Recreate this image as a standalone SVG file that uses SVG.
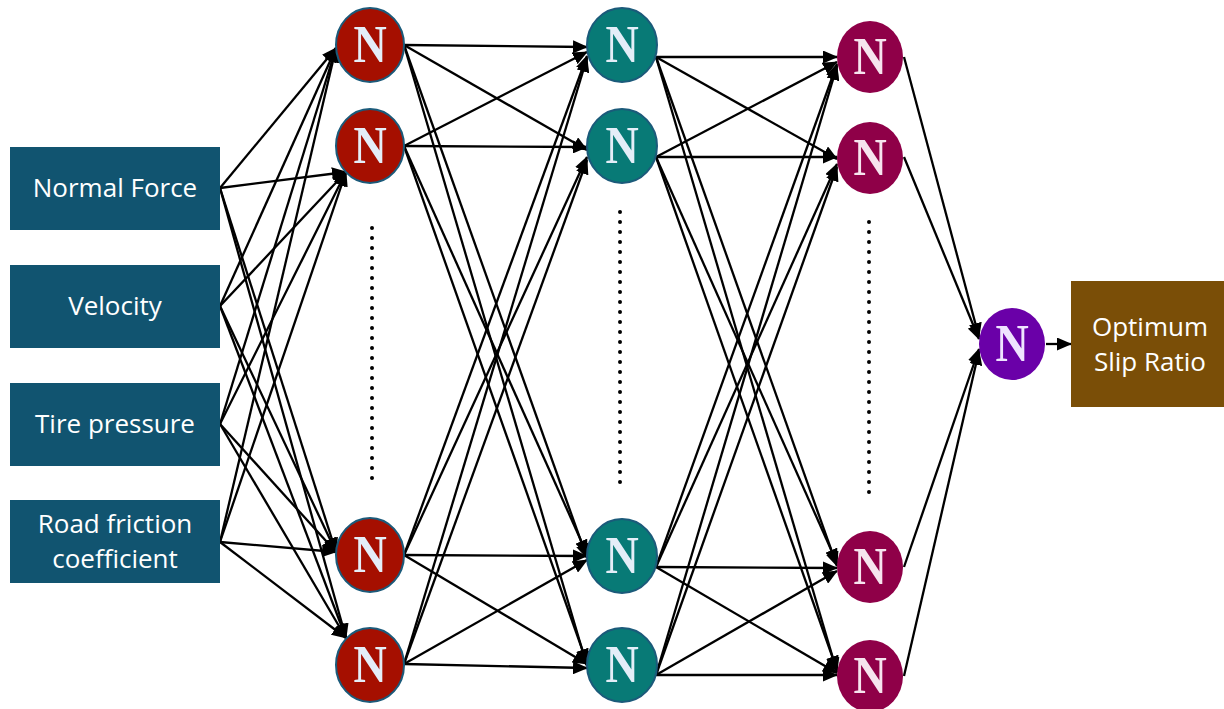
<svg xmlns="http://www.w3.org/2000/svg" width="1224" height="709" viewBox="0 0 1224 709">
<defs>
<marker id="ah" markerUnits="userSpaceOnUse" markerWidth="15" markerHeight="13" refX="14" refY="6.5" orient="auto">
<path d="M0,0 L15,6.5 L0,13 z" fill="#000"/>
</marker>
<style>
.c line{stroke:#000;stroke-width:2.3;marker-end:url(#ah)}
.in rect{fill:#115470}
.in text{fill:#fff;font-family:"Open Sans","Noto Sans",sans-serif;font-size:26px;text-anchor:middle}
.n text{font-family:"Liberation Serif",serif;font-weight:bold;font-size:46px;text-anchor:middle}
.l1 ellipse{fill:#a50f00;stroke:#1b5a7a;stroke-width:2}
.l2 ellipse{fill:#087a76;stroke:#1b5a7a;stroke-width:2}
.l1 text,.l2 text{fill:#e4eef8}
.l3 ellipse{fill:#8f0048}
.l3 text{fill:#f6e4ee}
.o ellipse{fill:#6a00a8}
.o text{fill:#efe4ff}
.dots{stroke:#000;stroke-width:4;stroke-linecap:round;stroke-dasharray:0 10}
</style>
</defs>
<g id="connectors" class="c">
<line x1="220" y1="188" x2="336" y2="48"/>
<line x1="220" y1="188" x2="346" y2="172"/>
<line x1="220" y1="188" x2="336" y2="552"/>
<line x1="220" y1="188" x2="346" y2="638"/>
<line x1="220" y1="306" x2="336" y2="48"/>
<line x1="220" y1="306" x2="346" y2="172"/>
<line x1="220" y1="306" x2="336" y2="552"/>
<line x1="220" y1="306" x2="346" y2="638"/>
<line x1="220" y1="424" x2="336" y2="48"/>
<line x1="220" y1="424" x2="346" y2="172"/>
<line x1="220" y1="424" x2="336" y2="552"/>
<line x1="220" y1="424" x2="346" y2="638"/>
<line x1="220" y1="542" x2="336" y2="48"/>
<line x1="220" y1="542" x2="346" y2="172"/>
<line x1="220" y1="542" x2="336" y2="552"/>
<line x1="220" y1="542" x2="346" y2="638"/>
<line x1="404" y1="45" x2="587" y2="47"/>
<line x1="404" y1="45" x2="587" y2="150"/>
<line x1="404" y1="45" x2="587" y2="558"/>
<line x1="404" y1="45" x2="587" y2="666"/>
<line x1="404" y1="146" x2="587" y2="52"/>
<line x1="404" y1="146" x2="587" y2="147"/>
<line x1="404" y1="146" x2="587" y2="554"/>
<line x1="404" y1="146" x2="587" y2="663"/>
<line x1="404" y1="555" x2="587" y2="56"/>
<line x1="404" y1="555" x2="587" y2="157"/>
<line x1="404" y1="555" x2="587" y2="556"/>
<line x1="404" y1="555" x2="587" y2="664"/>
<line x1="404" y1="664" x2="587" y2="58"/>
<line x1="404" y1="664" x2="587" y2="160"/>
<line x1="404" y1="664" x2="587" y2="560"/>
<line x1="404" y1="664" x2="587" y2="668"/>
<line x1="656" y1="57" x2="837" y2="57"/>
<line x1="656" y1="57" x2="837" y2="159"/>
<line x1="656" y1="57" x2="837" y2="566"/>
<line x1="656" y1="57" x2="837" y2="672"/>
<line x1="656" y1="157" x2="837" y2="62"/>
<line x1="656" y1="157" x2="837" y2="157"/>
<line x1="656" y1="157" x2="837" y2="563"/>
<line x1="656" y1="157" x2="837" y2="670"/>
<line x1="656" y1="567" x2="837" y2="64"/>
<line x1="656" y1="567" x2="837" y2="164"/>
<line x1="656" y1="567" x2="837" y2="568"/>
<line x1="656" y1="567" x2="837" y2="673"/>
<line x1="656" y1="675" x2="837" y2="66"/>
<line x1="656" y1="675" x2="837" y2="167"/>
<line x1="656" y1="675" x2="837" y2="571"/>
<line x1="656" y1="675" x2="837" y2="675"/>
<line x1="904" y1="57" x2="979" y2="337"/>
<line x1="904" y1="157" x2="979" y2="339"/>
<line x1="904" y1="567" x2="979" y2="349"/>
<line x1="904" y1="676" x2="979" y2="351"/>
<line x1="1046" y1="344" x2="1071" y2="344"/>
</g>
<g id="ellipsis">
<line class="dots" x1="372" y1="228" x2="372" y2="488"/>
<line class="dots" x1="620" y1="212" x2="620" y2="488"/>
<line class="dots" x1="869" y1="222" x2="869" y2="498"/>
</g>
<g id="in1" class="in"><rect x="10" y="147" width="210" height="83"/><text x="115" y="197">Normal Force</text></g>
<g id="in2" class="in"><rect x="10" y="265" width="210" height="83"/><text x="115" y="315">Velocity</text></g>
<g id="in3" class="in"><rect x="10" y="383" width="210" height="83"/><text x="115" y="433">Tire pressure</text></g>
<g id="in4" class="in"><rect x="10" y="500" width="210" height="83"/><text x="115" y="533">Road friction</text><text x="115" y="568">coefficient</text></g>
<g id="h1n1" class="n l1"><ellipse cx="370" cy="45" rx="34" ry="37"/><text transform="translate(370,62) scale(1,1.16)">N</text></g>
<g id="h1n2" class="n l1"><ellipse cx="370" cy="146" rx="34" ry="37"/><text transform="translate(370,163) scale(1,1.16)">N</text></g>
<g id="h1n3" class="n l1"><ellipse cx="370" cy="555" rx="34" ry="37"/><text transform="translate(370,572) scale(1,1.16)">N</text></g>
<g id="h1n4" class="n l1"><ellipse cx="370" cy="665" rx="34" ry="37"/><text transform="translate(370,682) scale(1,1.16)">N</text></g>
<g id="h2n1" class="n l2"><ellipse cx="622" cy="45" rx="35" ry="37"/><text transform="translate(622,62) scale(1,1.16)">N</text></g>
<g id="h2n2" class="n l2"><ellipse cx="622" cy="146" rx="35" ry="37"/><text transform="translate(622,163) scale(1,1.16)">N</text></g>
<g id="h2n3" class="n l2"><ellipse cx="622" cy="556" rx="35" ry="37"/><text transform="translate(622,573) scale(1,1.16)">N</text></g>
<g id="h2n4" class="n l2"><ellipse cx="622" cy="665" rx="35" ry="37"/><text transform="translate(622,682) scale(1,1.16)">N</text></g>
<g id="h3n1" class="n l3"><ellipse cx="870" cy="57" rx="33" ry="36"/><text transform="translate(870,74) scale(1,1.16)">N</text></g>
<g id="h3n2" class="n l3"><ellipse cx="870" cy="158" rx="33" ry="36"/><text transform="translate(870,175) scale(1,1.16)">N</text></g>
<g id="h3n3" class="n l3"><ellipse cx="870" cy="567" rx="33" ry="36"/><text transform="translate(870,584) scale(1,1.16)">N</text></g>
<g id="h3n4" class="n l3"><ellipse cx="870" cy="676" rx="33" ry="36"/><text transform="translate(870,693) scale(1,1.16)">N</text></g>
<g id="out" class="n o"><ellipse cx="1012" cy="344" rx="33" ry="36"/><text transform="translate(1012,361) scale(1,1.16)">N</text></g>
<g id="result"><rect x="1071" y="281" width="153" height="126" fill="#7a4e07"/><text x="1150" y="336" fill="#fff" font-family="Open Sans,Noto Sans,sans-serif" font-size="26" text-anchor="middle">Optimum</text><text x="1150" y="371" fill="#fff" font-family="Open Sans,Noto Sans,sans-serif" font-size="26" text-anchor="middle">Slip Ratio</text></g>
</svg>
